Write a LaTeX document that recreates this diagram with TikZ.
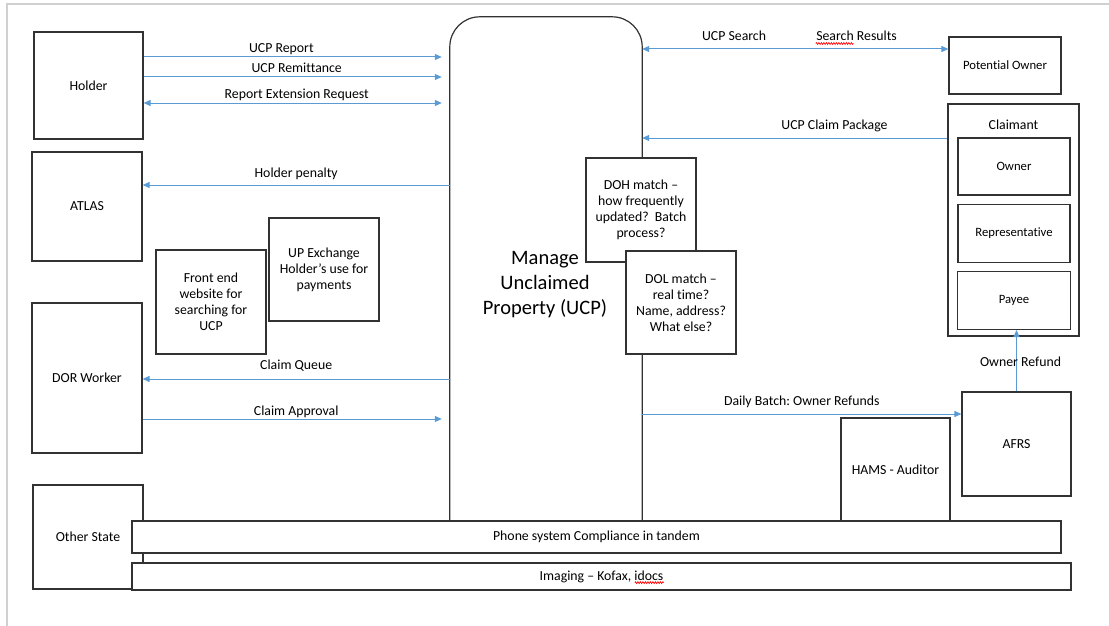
\documentclass[tikz,border=0pt]{standalone}
\usepackage{fontspec}
\setmainfont{Carlito}[Ligatures=NoCommon]
\frenchspacing
\usetikzlibrary{positioning,arrows.meta,decorations.pathmorphing}
\definecolor{ucpblue}{RGB}{91,155,213}
\definecolor{ucpline}{RGB}{50,50,50}
\definecolor{ucpframe}{RGB}{208,208,208}
\tikzset{
  >={Triangle[length=7pt,width=6pt]},
  my box/.style={
    draw=ucpline,
    fill=white,
    line width=1.2pt,
    rectangle,
    align=center,
    inner sep=2pt,
    font=\fontsize{13.8}{16}\selectfont
  },
  my small/.style={
    font=\fontsize{12.7}{15}\selectfont
  },
  my flow/.style={
    draw=ucpblue,
    line width=1pt
  },
  my label/.style={
    inner sep=0pt,
    text height=10pt,
    text depth=3pt,
    font=\fontsize{13.8}{16}\selectfont
  },
  my squiggle/.style={
    draw=red,
    line width=0.7pt,
    decorate,
    decoration={zigzag,amplitude=0.9pt,segment length=2.5pt}
  },
  my diagram/.style={
    x=1pt,y=-1pt,
    node distance=8pt
  }
}

\begin{document}
\begin{tikzpicture}[my diagram]
\useasboundingbox (0,0) rectangle (1109,626);
\draw[ucpframe,line width=1.5pt] (1109,4) -- (7,4) -- (7,626);
% central process
\node[minimum width=192pt,minimum height=504pt] (ucp) at (546,269) {};
\draw[draw=ucpline,line width=1.2pt,rounded corners=30pt] (ucp.south west) -- (ucp.north west) -- (ucp.north east) -- (ucp.south east);
\node[font=\fontsize{20.5}{25}\selectfont,align=center] (ucptext) at (545,285) {Manage\\Unclaimed\\Property (UCP)};
% left side
\node[my box,minimum width=109pt,minimum height=107pt] (holder) at (88.5,85.5) {Holder};
\node[my box,minimum width=110pt,minimum height=109pt] (atlas) at (87,206.5) {ATLAS};
\node[my box,minimum width=110pt,minimum height=104pt] (frontend) at (211,302) {Front end\\website for\\searching for\\UCP};
\node[my box,minimum width=110pt,minimum height=103pt] (upexchange) at (324,269.5) {UP Exchange\\Holder’s use for\\payments};
\node[my box,minimum width=110pt,minimum height=150pt] (dor) at (87,378) {DOR Worker};
\node[my box,minimum width=110pt,minimum height=104pt] (otherstate) at (88,537) {Other State};
% matches
\node[my box,minimum width=110pt,minimum height=104pt] (doh) at (641,210) {DOH match –\\how frequently\\updated?~~Batch\\process?};
\node[my box,minimum width=110pt,minimum height=103pt] (dol) at (681,302.5) {DOL match –\\real time?\\Name, address?\\What else?};
% right side
\node[my box,my small,minimum width=112pt,minimum height=57pt] (potential) at (1005,65.5) {Potential Owner};
\node[my box,minimum width=131pt,minimum height=232pt,label={[my label,anchor=center,yshift=-23pt]north:Claimant}] (claimant) at (1013.5,220) {};
\node[my box,my small,minimum width=112pt,minimum height=57pt] (owner) at (1014,166.5) {Owner};
\node[my box,my small,minimum width=112pt,minimum height=58pt,below=of owner] (representative) {Representative};
\node[my box,my small,minimum width=113pt,minimum height=58pt,below=of representative] (payee) {Payee};
\node[my box,minimum width=109pt,minimum height=103pt] (hams) at (895.5,469.5) {HAMS - Auditor};
\node[my box,minimum width=109pt,minimum height=104pt] (afrs) at (1016.5,444) {AFRS};
% bars
\node[my box,minimum width=929pt,minimum height=32pt] (phone) at (596.5,537) {Phone system Compliance in tandem};
\node[my box,minimum width=939pt,minimum height=27pt] (imaging) at (601.5,576.5) {Imaging – Kofax, idocs};
% flows
\draw[my flow,->,shorten >=8pt] (holder.east |- 0,57) -- node[my label,above=0.5pt,pos=0.45] {UCP Report} (ucp.west |- 0,57);
\draw[my flow,->,shorten >=8pt] (holder.east |- 0,77) -- node[my label,above=0.5pt] {UCP Remittance} (ucp.west |- 0,77);
\draw[my flow,<->,shorten >=8pt] (holder.east |- 0,103) -- node[my label,above=0.5pt] {Report Extension Request} (ucp.west |- 0,103);
\draw[my flow,->] (ucp.west |- 0,185) -- node[my label,above=4.5pt] {Holder penalty} (atlas.east |- 0,185);
\draw[my flow,->] (ucp.west |- 0,379) -- node[my label,above=6.5pt] {Claim Queue} (dor.east |- 0,379);
\draw[my flow,->,shorten >=8pt] (dor.east |- 0,419) -- node[my label,above=0pt] {Claim Approval} (ucp.west |- 0,419);
\draw[my flow,<->] (ucp.east |- 0,49) -- node[my label,above=4.5pt,pos=0.3] {UCP Search} node[my label,above=4.5pt,pos=0.7] (results) {Search Results} (potential.west |- 0,49);
\draw[my flow,->] (claimant.west |- 0,138) -- node[my label,above=5.5pt,pos=0.37] {UCP Claim Package} (ucp.east |- 0,138);
\draw[my flow,->] (ucp.east |- 0,414) -- node[my label,above=5.5pt] {Daily Batch: Owner Refunds} (afrs.west |- 0,414);
\draw[my flow,->] (afrs.north) -- node[my label,xshift=4pt,yshift=-2pt] {Owner Refund} (afrs.north |- payee.south);
% spelling marks
\draw[my squiggle] ([yshift=-2.5pt]results.base west) -- ++(37.7,0);
\draw[my squiggle] ([xshift=33.3pt,yshift=-2.5pt]imaging.base) -- ++(28.9,0);
\end{tikzpicture}
\end{document}
